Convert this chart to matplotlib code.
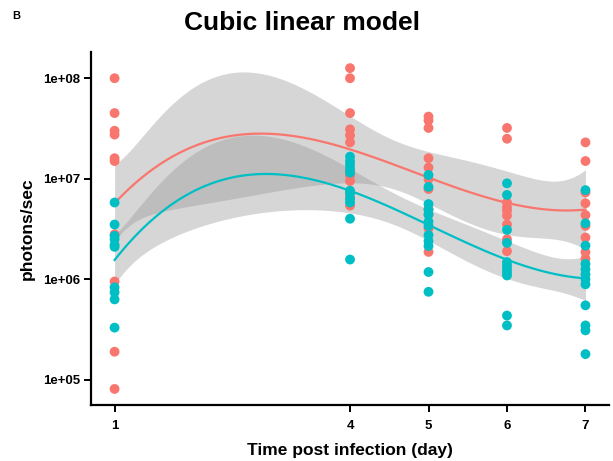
"""Cubic lm fit of bioluminescence per group, ggplot-like styling."""

import numpy as np
import matplotlib
matplotlib.use("Agg")
import matplotlib.pyplot as plt
from matplotlib.ticker import FixedLocator, NullLocator


RED = "#F8766D"
TEAL = "#00BFC4"

DAYS = [1, 4, 5, 6, 7]

# photons/sec, one list per day
# (a few red points sit hidden behind the teal ones)
RED_VALUES = [
    [1.0e8, 4.5e7, 3.0e7, 2.75e7, 1.6e7, 1.5e7, 2.8e6, 9.5e5, 1.9e5, 8.1e4],
    [1.26e8, 1.0e8, 4.5e7, 3.1e7, 2.7e7, 2.3e7, 1.07e7, 9.5e6, 5.4e6,
     1.2e7, 7.5e6, 6.5e6],
    [4.15e7, 3.8e7, 3.2e7, 1.6e7, 1.29e7, 9.9e6, 7.9e6, 3.2e6, 1.87e6,
     5.0e6, 4.4e6],
    [3.2e7, 2.5e7, 5.8e6, 5.2e6, 4.8e6, 4.3e6, 3.5e6, 2.5e6, 1.9e6],
    [2.3e7, 1.5e7, 7.3e6, 5.7e6, 4.35e6, 3.4e6, 2.6e6, 1.86e6, 1.6e6],
]
TEAL_VALUES = [
    [5.8e6, 3.5e6, 2.7e6, 2.5e6, 2.2e6, 2.1e6, 8.3e5, 7.4e5, 6.3e5, 3.3e5],
    [1.66e7, 1.5e7, 1.38e7, 1.26e7, 1.15e7, 7.6e6, 7.1e6, 6.3e6, 5.8e6,
     4.0e6, 1.57e6],
    [1.09e7, 8.3e6, 5.6e6, 4.9e6, 4.4e6, 3.74e6, 3.4e6, 2.75e6, 2.4e6,
     2.14e6, 1.18e6, 7.5e5],
    [9.0e6, 6.9e6, 3.1e6, 2.3e6, 1.48e6, 1.36e6, 1.26e6, 1.17e6, 1.09e6,
     4.35e5, 3.47e5],
    [7.7e6, 3.6e6, 2.16e6, 1.42e6, 1.26e6, 1.12e6, 1.0e6, 8.9e5, 5.5e5,
     3.47e5, 3.1e5, 1.8e5],
]

Y_TICKS = [1e5, 1e6, 1e7, 1e8]
Y_TICK_LABELS = ["1e+05", "1e+06", "1e+07", "1e+08"]


def _flatten(groups):
    xs, ys = [], []
    for day, vals in zip(DAYS, groups):
        xs.extend([day] * len(vals))
        ys.extend(vals)
    return np.array(xs, float), np.array(ys, float)


def _cubic_fit(x, y_log, grid):
    """OLS cubic fit with 95% confidence band, like geom_smooth(lm)."""
    X = np.vander(x, 4)
    beta, *_ = np.linalg.lstsq(X, y_log, rcond=None)
    resid = y_log - X @ beta
    dof = len(x) - 4
    sigma2 = resid @ resid / dof
    xtx_inv = np.linalg.inv(X.T @ X)
    G = np.vander(grid, 4)
    fit = G @ beta
    se = np.sqrt(sigma2 * np.einsum("ij,jk,ik->i", G, xtx_inv, G))
    # t quantile 0.975, dof ~ 45
    t = 2.01
    return fit, fit - t * se, fit + t * se


def main():
    plt.rcParams["font.family"] = ["Liberation Sans", "DejaVu Sans"]
    plt.rcParams["font.weight"] = "bold"

    fig = plt.figure(figsize=(6.13, 4.61), dpi=100)
    ax = fig.add_axes([0.1485, 0.1215, 0.845, 0.7655])

    grid = np.linspace(1, 7, 120)
    all_y = []
    for groups, color in ((RED_VALUES, RED), (TEAL_VALUES, TEAL)):
        x, y = _flatten(groups)
        ylog = np.log10(y)
        all_y.append(ylog)
        fit, lo, hi = _cubic_fit(x, ylog, grid)
        ax.fill_between(grid, 10 ** lo, 10 ** hi, color="#999999",
                        alpha=0.4, linewidth=0, zorder=1)
        ax.plot(grid, 10 ** fit, color=color, lw=1.6, zorder=2)
        ax.scatter(x, y, s=50, color=color, edgecolors="none", zorder=3)

    ax.set_yscale("log")
    ally = np.concatenate(all_y)
    span = ally.max() - ally.min()
    ax.set_ylim(10 ** (ally.min() - 0.05 * span), 10 ** (ally.max() + 0.05 * span))
    ax.set_xlim(0.7, 7.3)

    ax.xaxis.set_major_locator(FixedLocator(DAYS))
    ax.set_xticklabels([str(d) for d in DAYS])
    ax.yaxis.set_major_locator(FixedLocator(Y_TICKS))
    ax.yaxis.set_minor_locator(NullLocator())
    ax.set_yticklabels(Y_TICK_LABELS)

    for side in ("top", "right"):
        ax.spines[side].set_visible(False)
    for side in ("left", "bottom"):
        ax.spines[side].set_linewidth(1.6)
    ax.tick_params(axis="both", length=5, width=1.4, color="black",
                   labelsize=9.5, pad=3)
    ax.tick_params(axis="x", pad=6)
    for lab in ax.get_xticklabels() + ax.get_yticklabels():
        lab.set_fontweight("bold")

    ax.set_xlabel("Time post infection (day)", fontsize=12.5,
                  fontweight="bold", labelpad=8)
    ax.set_ylabel("photons/sec", fontsize=12.5, fontweight="bold", labelpad=6)
    fig.text(0.493, 0.95, "Cubic linear model", ha="center", va="center",
             fontsize=19, fontweight="bold")
    fig.text(0.02, 0.965, "B", ha="left", va="center", fontsize=8,
             fontweight="bold")

    fig.savefig("out.png", dpi=100)
    plt.close(fig)


if __name__ == "__main__":
    main()
